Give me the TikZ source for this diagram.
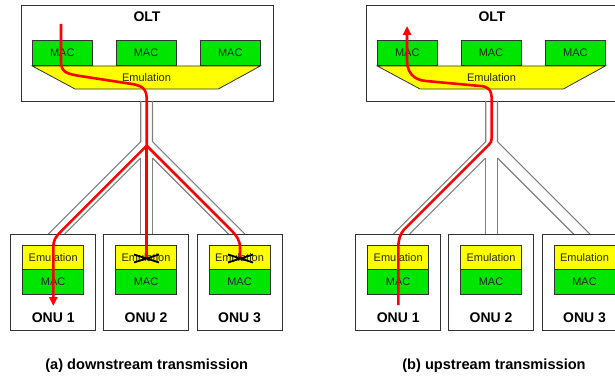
\documentclass[tikz,border=0pt]{standalone}
\usepackage{fontspec}
\setmainfont{Liberation Sans}
\usetikzlibrary{arrows.meta}
\definecolor{macgreen}{RGB}{0,230,0}
\definecolor{emuyellow}{RGB}{255,255,0}
\tikzset{
  oltbox/.style={draw=black!80, line width=0.9pt, minimum width=252pt, minimum height=96pt, inner sep=0pt},
  onubox/.style={draw=black!80, line width=0.9pt, minimum width=85pt, minimum height=96pt, inner sep=0pt},
  macbox/.style={draw=black!80, fill=macgreen, line width=0.8pt, minimum width=60pt, minimum height=25pt, inner sep=0pt, text=black!85, font=\fontsize{11}{12}\selectfont},
  onumac/.style={macbox, minimum width=61pt},
  onuemu/.style={macbox, fill=emuyellow, minimum width=61pt, minimum height=23.3pt},
  emushape/.style={draw=black!80, fill=emuyellow, line width=0.8pt},
  plain/.style={text=black!85, font=\fontsize{11}{12}\selectfont, inner sep=0pt},
  title/.style={font=\bfseries\fontsize{14}{16}\selectfont, inner sep=0pt},
  caption/.style={font=\bfseries\fontsize{14.6}{17}\selectfont, inner sep=0pt},
  fiber/.style={draw=black!50, line width=1.1pt},
  redpath/.style={draw=red, line width=2.6pt},
  redarrow/.style={redpath, -{Triangle[length=9pt,width=8pt]}},
  xmark/.style={draw=black, line width=1.8pt}
}
\newcommand\ponpanel[1]{%
  \node[oltbox] (#1olt) at (147,53) {};
  \node[title] (#1oltlab) at (147,17) {OLT};
  \draw[emushape] (32.3,66) -- (260.3,66) -- (218.3,89) -- (75,89) -- cycle;
  \node[plain] (#1emulab) at (146.5,78) {Emulation};
  \foreach \i/\x in {1/62.3,2/146,3/230.3} {
    \node[macbox] (#1mac\i) at (\x,53.2) {MAC};
  }
  \coordinate (#1tL) at (140.7,101);
  \coordinate (#1tR) at (152.5,101);
  \coordinate (#1sL) at (140.7,141.7);
  \coordinate (#1sR) at (152.5,141.7);
  \coordinate (#1iL) at (140.7,158);
  \coordinate (#1iR) at (152.5,158);
  \coordinate (#1e1a) at (48.4,234);
  \coordinate (#1e1b) at (64.7,234);
  \coordinate (#1e2a) at (140.7,234);
  \coordinate (#1e2b) at (152.5,234);
  \coordinate (#1e3a) at (228.5,234);
  \coordinate (#1e3b) at (244.8,234);
  \draw[fiber] (#1tL) -- (#1sL) -- (#1e1a);
  \draw[fiber] (#1iL) -- (#1e1b);
  \draw[fiber] (#1iL) -- (#1e2a);
  \draw[fiber] (#1iR) -- (#1e2b);
  \draw[fiber] (#1iR) -- (#1e3a);
  \draw[fiber] (#1tR) -- (#1sR) -- (#1e3b);
  \foreach \i/\x in {1/53.2,2/146,3/239.5} {
    \node[onubox] (#1onu\i) at (\x,282) {};
    \node[onuemu] (#1emu\i) at (\x,257.35) {Emulation};
    \node[onumac] (#1omac\i) at (\x,281.5) {MAC};
    \node[title] (#1lab\i) at (\x,317.3) {ONU \i};
  }
}
\begin{document}
\begin{tikzpicture}[x=1pt,y=-1pt]
  \clip (0,0) rectangle (615,379);
  \fill[white] (0,0) rectangle (615,379);
  % (a) downstream
  \ponpanel{a}
  \coordinate (aRs) at (61,24);
  \coordinate (aRsplit) at (146.7,145.7);
  \coordinate (aRend1) at (53.3,306);
  \coordinate (aRend2) at (146.7,258.5);
  \coordinate (aRend3) at (240,258.5);
  \draw[redpath] (aRs) -- (61,62) .. controls (61,72) and (67,74) .. (80,76) -- (132,84) .. controls (144,86) and (146.7,90) .. (146.7,100) -- (aRsplit);
  \draw[redarrow] (aRsplit) -- (62,230.4) .. controls (55,237.4) and (53.3,240) .. (53.3,248) -- (aRend1);
  \draw[redpath] (aRsplit) -- (aRend2);
  \draw[redpath] (aRsplit) -- (229,228) .. controls (237,236) and (240,240) .. (240,248) -- (aRend3);
  \draw[xmark] (134,254.5) -- (159,262.5) (134,262.5) -- (159,254.5);
  \draw[xmark] (228,254.5) -- (253,262.5) (228,262.5) -- (253,254.5);
  \node[caption] (capa) at (146.7,365.7) {(a) downstream transmission};
  % (b) upstream
  \begin{scope}[xshift=345pt]
    \ponpanel{b}
  \end{scope}
  \coordinate (bRs) at (398.3,305);
  \coordinate (bRe) at (407,26);
  \draw[redarrow] (bRs) -- (398.3,248) .. controls (398.3,240) and (400,234) .. (404,229.6) -- (489,144.6) .. controls (491,142.6) and (491.7,141) .. (491.7,138) -- (491.7,100) .. controls (491.7,89) and (488,86.5) .. (480,86) -- (426,81) .. controls (413,80) and (407,72) .. (407,60) -- (bRe);
  \node[caption] (capb) at (494,365.7) {(b) upstream transmission};
\end{tikzpicture}
\end{document}
